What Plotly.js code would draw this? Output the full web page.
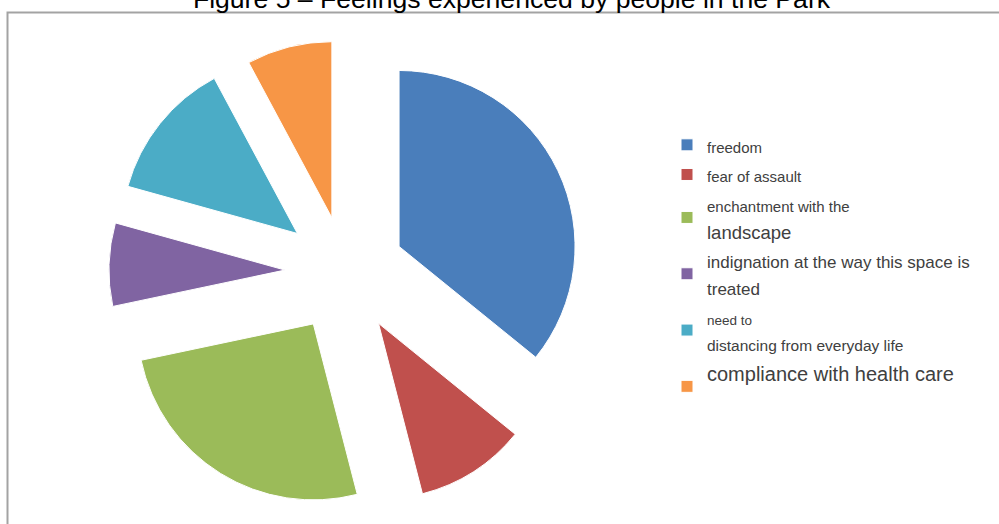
<!DOCTYPE html>
<html>
<head>
<meta charset="utf-8">
<script src="https://cdn.plot.ly/plotly-3.0.1.min.js"></script>
<style>html,body{margin:0;padding:0;background:#fff;}#chart{width:999px;height:524px;}</style>
</head>
<body>
<div id="chart"></div>
<script>
// Data
const categories = [
  "freedom",
  "fear of assault",
  "enchantment with the landscape",
  "indignation at the way this space is treated",
  "need to distancing from everyday life",
  "compliance with health care"
];
const shares = [35.7, 10.1, 25.6, 7.6, 12.8, 7.8];
const titleText = "Figure 5 \u2013 Feelings experienced by people in the Park";

// Styling (not data)
const colors = ["#4A7EBB", "#C0504D", "#9BBB59", "#8064A2", "#4BACC6", "#F79646"];
const pulls = [0.337, 0.347, 0.347, 0.344, 0.35, 0.318];
// legend line breaks and per-line font sizes, mirroring the reference
const legendLines = [
  [["freedom", 15]],
  [["fear of assault", 15]],
  [["enchantment with the", 15], ["landscape", 18.5]],
  [["indignation at the way this space is", 17], ["treated", 17]],
  [["need to", 13.5], ["distancing from everyday life", 15.5]],
  [["compliance with health care", 20], ["\u00a0", 14]]
];
const legendLabels = legendLines.map(lines =>
  lines.map(([t, s]) => '<span style="font-size:' + s + 'px">' + t + '</span>').join('<br>')
);

const trace = {
  type: 'pie',
  labels: legendLabels,
  values: shares,
  text: categories,
  sort: false,
  direction: 'clockwise',
  rotation: 0,
  pull: pulls,
  textinfo: 'none',
  hoverinfo: 'text+percent',
  marker: { colors: colors, line: { color: '#ffffff', width: 1 } },
  domain: { x: [0.108, 0.5837], y: [0.0275, 0.9344] }
};

const layout = {
  width: 999,
  height: 524,
  margin: { l: 0, r: 0, t: 0, b: 0, pad: 0 },
  paper_bgcolor: '#ffffff',
  plot_bgcolor: '#ffffff',
  font: { family: '"Liberation Sans", Arial, sans-serif', color: '#404040' },
  title: {
    text: titleText,
    font: { family: '"Liberation Sans", Arial, sans-serif', size: 26.6, color: '#000000' },
    xref: 'container', yref: 'container',
    x: 0.512, xanchor: 'center',
    y: 1 - 8 / 524, yanchor: 'bottom'
  },
  showlegend: true,
  legend: {
    x: 667 / 999, xanchor: 'left',
    y: 1 - 125 / 524, yanchor: 'top',
    bgcolor: 'rgba(0,0,0,0)',
    borderwidth: 0,
    font: { family: '"Liberation Sans", Arial, sans-serif', size: 20.5, color: '#404040' },
    itemclick: false, itemdoubleclick: false
  },
  shapes: [
    { type: 'rect', xref: 'paper', yref: 'paper',
      x0: 7.5 / 999, x1: 1.02, y0: -0.02, y1: 1 - 12.5 / 524,
      line: { color: '#a3a3a3', width: 2 }, fillcolor: 'rgba(0,0,0,0)', layer: 'below' }
  ]
};

Plotly.newPlot('chart', [trace], layout, { displayModeBar: false, staticPlot: true });
</script>
</body>
</html>
